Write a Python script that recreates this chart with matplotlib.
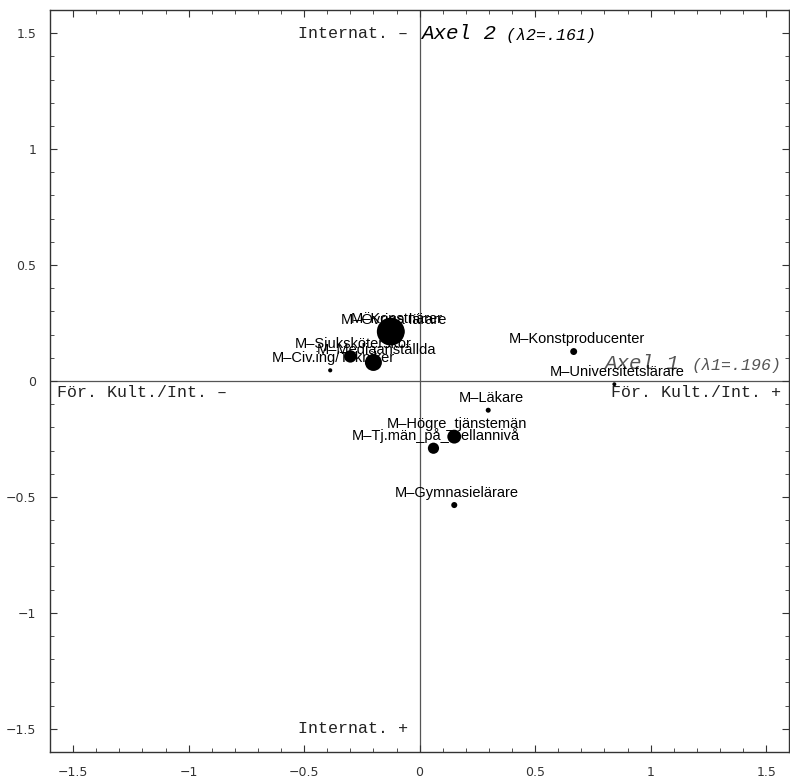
import matplotlib
matplotlib.use('Agg')
import matplotlib.pyplot as plt
from matplotlib.ticker import MultipleLocator

# Korrespondensanalys: punkter (Axel 1, Axel 2) och massa
yrken = ['M–Övriga lärare', 'M–Konstnärer', 'M–Sjuksköterskor', 'M–Mediaanställda',
         'M–Civ.ing/Tekniker', 'M–Konstproducenter', 'M–Universitetslärare',
         'M–Läkare', 'M–Högre_tjänstemän', 'M–Tj.män_på_mellannivå', 'M–Gymnasielärare']
axel1 = [-0.125, -0.11, -0.30, -0.20, -0.387, 0.667, 0.843, 0.297, 0.15, 0.06, 0.15]
axel2 = [0.213, 0.213, 0.106, 0.08, 0.046, 0.127, -0.014, -0.126, -0.24, -0.29, -0.535]
massa = [40, 22, 8, 15, 0.9, 2.5, 0.8, 1.3, 10, 6.5, 1.9]

tick_pos = [-1.5, -1, -0.5, 0, 0.5, 1, 1.5]
tick_txt = ['−1.5', '−1', '−0.5', '0', '0.5', '1', '1.5']

mono = 'Liberation Mono'

fig = plt.figure(figsize=(7.9, 7.8), dpi=100)
ax = fig.add_axes([0.0633, 0.0359, 0.9357, 0.9513])
ax.set_xlim(-1.6, 1.6)
ax.set_ylim(-1.6, 1.6)

# axlar genom origo
ax.axhline(0, color='#555555', lw=0.9, zorder=1)
ax.axvline(0, color='#555555', lw=0.9, zorder=1)

ax.scatter(axel1, axel2, s=[m * 10 for m in massa], color='black', linewidths=0, zorder=3)
for namn, px, py in zip(yrken, axel1, axel2):
    ax.annotate(namn, (px, py), xytext=(2, 9), textcoords='offset points',
                ha='center', va='center', fontsize=10.5, family='Liberation Sans', zorder=4)

# axeltexter
ax.text(-0.05, 1.5, 'Internat. –', family=mono, fontsize=12, ha='right', va='center', color='#222222')
ax.text(-0.05, -1.5, 'Internat. +', family=mono, fontsize=12, ha='right', va='center', color='#222222')
t2 = ax.text(0.005, 1.5, 'Axel 2', family=mono, style='italic', fontsize=15, ha='left', va='center')
ax.annotate(' (λ2=.161)', xy=(1, 0), xycoords=t2, ha='left', va='bottom',
            family=mono, style='italic', fontsize=12)
ax.text(-1.57, -0.05, 'För. Kult./Int. –', family=mono, fontsize=12, ha='left', va='center', color='#222222')
ax.text(1.565, -0.05, 'För. Kult./Int. +', family=mono, fontsize=12, ha='right', va='center', color='#222222')
t1 = ax.text(1.565, 0.067, '(λ1=.196)', family=mono, style='italic', fontsize=12,
             ha='right', va='center', color='#555555')
ax.annotate('Axel 1 ', xy=(0, 0), xycoords=t1, ha='right', va='bottom',
            family=mono, style='italic', fontsize=15, color='#555555')

ax.set_xticks(tick_pos)
ax.set_xticklabels(tick_txt)
ax.set_yticks(tick_pos)
ax.set_yticklabels(tick_txt)
ax.xaxis.set_minor_locator(MultipleLocator(0.1))
ax.yaxis.set_minor_locator(MultipleLocator(0.1))
ax.tick_params(which='both', direction='in', top=True, right=True, color='#333333')
ax.tick_params(which='major', length=5, labelsize=9, labelcolor='#333333', pad=10)
ax.tick_params(which='minor', length=3)
for sp in ax.spines.values():
    sp.set_color('#333333')
    sp.set_linewidth(1)

fig.savefig('out.png', dpi=100)
plt.close(fig)
